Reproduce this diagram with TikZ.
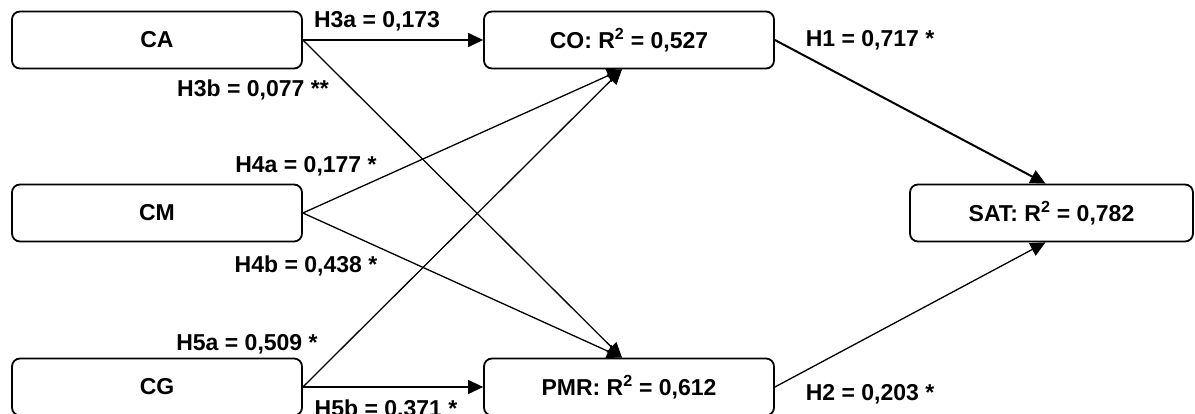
\documentclass[tikz,border=0pt]{standalone}
\usepackage{fontspec}
\setmainfont{Liberation Sans}
\usetikzlibrary{arrows.meta}

\begin{document}
\begin{tikzpicture}[
    x=1pt, y=-1pt,
    font=\fontsize{23}{27}\selectfont\bfseries,
    construct/.style={draw, rounded corners=8pt, line width=1.8pt,
                      minimum width=290pt, minimum height=57pt, inner sep=0pt},
    effect/.style={draw, line width=1.3pt, -{Triangle[length=15pt,width=14pt]}},
    coef/.style={anchor=base, inner sep=0pt}
]
    \useasboundingbox (0,0) rectangle (1195,414);

    \node[construct] (ca) at (157,40) {CA};
    \node[construct] (cm) at (157,213) {CM};
    \node[construct] (cg) at (157,387) {CG};

    \node[construct] (co) at (629,40) {CO: R\textsuperscript{2} = 0,527};
    \node[construct] (pmr) at (629,387) {PMR: R\textsuperscript{2} = 0,612};

    \node[construct, minimum width=283pt] (sat) at (1051.5,213)
        {SAT: R\textsuperscript{2} = 0,782};

    \draw[effect] (ca.east) -- (co.west);
    \draw[effect] (ca.east) -- ([xshift=-7pt]pmr.north);
    \draw[effect] (cm.east) -- ([xshift=-7pt]co.south);
    \draw[effect] (cm.east) -- ([xshift=-7pt]pmr.north);
    \draw[effect] (cg.east) -- ([xshift=-7pt]co.south);
    \draw[effect] (cg.east) -- (pmr.west);

    \draw[effect, line width=2pt] (co.east) -- ([xshift=-6pt]sat.north);
    \draw[effect] (pmr.east) -- ([xshift=-6pt]sat.south);

    \node[coef] (h3a) at (377,28) {H3a = 0,173};
    \node[coef] (h3b) at (253,97) {H3b = 0,077 **};
    \node[coef] (h4a) at (306,173) {H4a = 0,177 *};
    \node[coef] (h4b) at (306,273) {H4b = 0,438 *};
    \node[coef] (h5a) at (247,350) {H5a = 0,509 *};
    \node[coef] (h5b) at (386,416) {H5b = 0,371 *};
    \node[coef] (h1) at (870,47) {H1 = 0,717 *};
    \node[coef] (h2) at (870,400) {H2 = 0,203 *};

\end{tikzpicture}
\end{document}
